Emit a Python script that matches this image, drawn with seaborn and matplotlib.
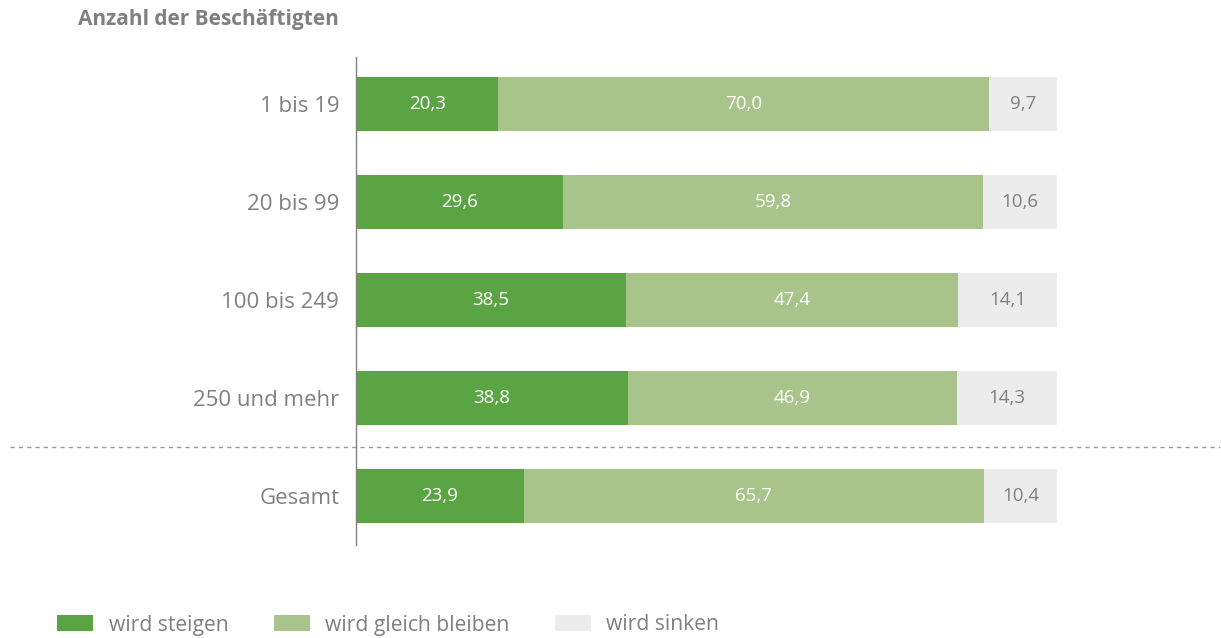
import matplotlib
matplotlib.use("Agg")
import matplotlib.pyplot as plt
from matplotlib.patches import Patch
import numpy as np
import pandas as pd
import seaborn as sns

categories = ["1 bis 19", "20 bis 99", "100 bis 249", "250 und mehr", "Gesamt"]
steigen = [20.3, 29.6, 38.5, 38.8, 23.9]
gleich = [70.0, 59.8, 47.4, 46.9, 65.7]
sinken = [9.7, 10.6, 14.1, 14.3, 10.4]
series_names = ["wird steigen", "wird gleich bleiben", "wird sinken"]

colors = ["#5ba443", "#a8c48a", "#ececec"]
text_grey = "#808080"

sns.set_theme(style="white")
plt.rcParams["font.family"] = ["Open Sans", "DejaVu Sans"]

df = pd.DataFrame({"cat": categories, "s": steigen, "g": gleich, "k": sinken})
df["sg"] = df["s"] + df["g"]
df["total"] = df["sg"] + df["k"]

fig = plt.figure(figsize=(12.21, 6.38), dpi=100)
ax = fig.add_axes([356 / 1221, 1 - 545 / 638, 701 / 1221, 488 / 638])

# stacked bars by overlaying cumulative totals
for col, c in zip(["total", "sg", "s"], colors[::-1]):
    sns.barplot(data=df, x=col, y="cat", order=categories, orient="h",
                color=c, width=0.56, saturation=1, ax=ax, linewidth=0)

ax.set_xlim(0, 100)
ax.set_ylim(4.5, -0.48)

# value labels
for i in range(len(categories)):
    vals = [steigen[i], gleich[i], sinken[i]]
    left = 0
    for j, v in enumerate(vals):
        ax.text(left + v / 2, i, f"{v:.1f}".replace(".", ","),
                ha="center", va="center", fontsize=13.5,
                color="white" if j < 2 else text_grey)
        left += v

ax.set_xlabel("")
ax.set_ylabel("")
ax.set_xticks([])
ax.tick_params(axis="y", length=0, pad=12, labelsize=16, labelcolor=text_grey)
for s in ["top", "right", "bottom"]:
    ax.spines[s].set_visible(False)
ax.spines["left"].set_color("#808080")
ax.spines["left"].set_linewidth(1)

# dashed separator before "Gesamt"
ax.axhline(3.5, xmin=(10 - 356) / 701, xmax=(1220 - 356) / 701,
           color="#999999", linestyle=(0, (3, 3)), linewidth=1, clip_on=False)

fig.text(78 / 1221, 1 - 19 / 638, "Anzahl der Beschäftigten", fontsize=15,
         fontweight="bold", color=text_grey, ha="left", va="center")

handles = [Patch(facecolor=c, edgecolor="none") for c in colors]
fig.legend(handles, series_names, loc="center left",
           bbox_to_anchor=(38 / 1221, 1 - 625 / 638), ncol=3, frameon=False,
           fontsize=15.2, labelcolor=text_grey, handlelength=1.7,
           handleheight=0.8, handletextpad=0.74, columnspacing=2.15)

fig.savefig("out.png", dpi=100)
